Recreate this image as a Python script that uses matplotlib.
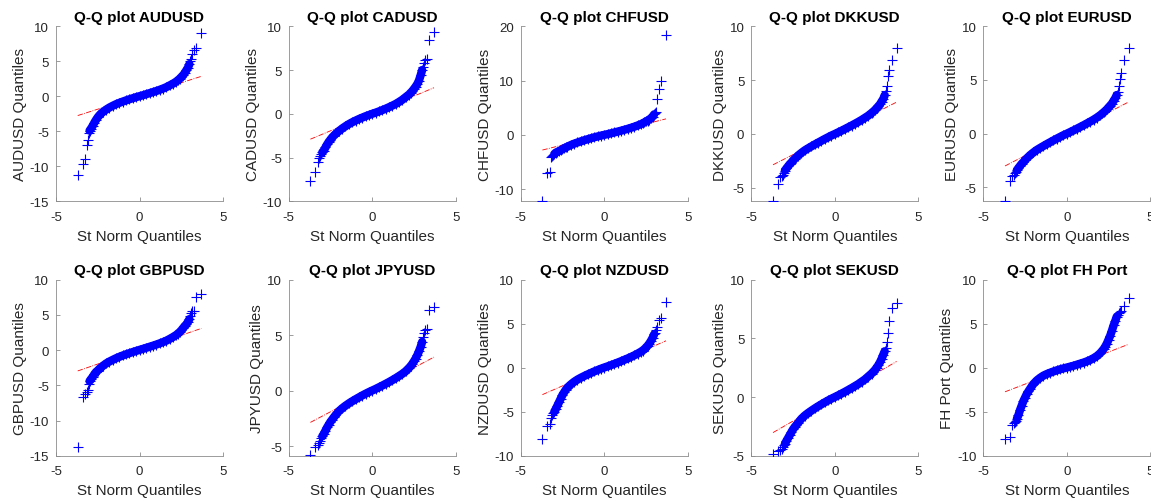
import matplotlib
matplotlib.use("Agg")
import matplotlib.pyplot as plt

plt.rcParams['font.family'] = ['Liberation Sans', 'DejaVu Sans']
plt.rcParams['axes.unicode_minus'] = False

# theoretical standard-normal quantiles at which the sample quantiles were read
qx = [-3.70, -3.41, -3.27, -3.17, -3.10, -3.04, -2.99,
      -2.9, -2.8, -2.7, -2.6, -2.5, -2.4, -2.3, -2.2,
      -2.0, -1.8, -1.6, -1.4, -1.2, -1.0, -0.8, -0.6, -0.4, -0.2,
      0.0,
      0.2, 0.4, 0.6, 0.8, 1.0, 1.2, 1.4, 1.6, 1.8, 2.0,
      2.2, 2.3, 2.4, 2.5, 2.6, 2.7, 2.8, 2.9,
      2.99, 3.04, 3.10, 3.17, 3.27, 3.41, 3.70]

names = ['AUDUSD', 'CADUSD', 'CHFUSD', 'DKKUSD', 'EURUSD',
         'GBPUSD', 'JPYUSD', 'NZDUSD', 'SEKUSD', 'FH Port']

aud = [-11.2, -9.7, -9.0, -7.0, -6.3, -5.3, -4.9,
       -4.6, -4.2, -3.75, -3.35, -3.0, -2.7, -2.45, -2.25,
       -1.9, -1.6, -1.35, -1.12, -0.93, -0.75, -0.58, -0.42, -0.27, -0.12,
       0.02,
       0.15, 0.3, 0.45, 0.6, 0.75, 0.92, 1.1, 1.3, 1.55, 1.8,
       2.1, 2.3, 2.5, 2.75, 3.0, 3.3, 3.7, 4.1,
       4.6, 5.0, 5.4, 6.0, 6.6, 6.9, 9.1]
cad = [-7.7, -6.7, -5.5, -5.0, -4.8, -4.6, -4.4,
       -4.2, -3.85, -3.5, -3.2, -2.95, -2.7, -2.5, -2.3,
       -1.98, -1.68, -1.42, -1.18, -0.97, -0.78, -0.6, -0.44, -0.28, -0.14,
       0.0,
       0.13, 0.27, 0.42, 0.58, 0.75, 0.93, 1.12, 1.35, 1.6, 1.9,
       2.2, 2.4, 2.6, 2.85, 3.1, 3.4, 3.8, 4.4,
       5.0, 5.4, 5.8, 6.1, 6.3, 8.4, 9.4]
chf = [-12.2, -7.0, -6.8, -4.1, -3.9, -3.7, -3.5,
       -3.25, -3.1, -2.95, -2.8, -2.6, -2.45, -2.3, -2.15,
       -1.85, -1.6, -1.38, -1.17, -0.97, -0.78, -0.6, -0.43, -0.27, -0.12,
       0.02,
       0.16, 0.31, 0.46, 0.62, 0.78, 0.95, 1.13, 1.32, 1.52, 1.75,
       2.0, 2.15, 2.3, 2.5, 2.65, 2.85, 3.1, 3.4,
       3.8, 4.0, 4.3, 6.6, 8.5, 9.9, 18.4]
dkk = [-6.25, -4.6, -3.95, -3.9, -3.8, -3.6, -3.4,
       -3.2, -3.0, -2.8, -2.65, -2.45, -2.3, -2.15, -2.0,
       -1.75, -1.52, -1.33, -1.15, -0.97, -0.8, -0.63, -0.46, -0.3, -0.14,
       0.0,
       0.15, 0.3, 0.46, 0.62, 0.78, 0.95, 1.12, 1.3, 1.5, 1.7,
       1.95, 2.08, 2.22, 2.4, 2.57, 2.75, 3.0, 3.25,
       3.6, 4.0, 4.5, 5.4, 5.9, 6.9, 8.0]
eur = [-6.28, -4.45, -3.95, -3.85, -3.7, -3.55, -3.4,
       -3.2, -3.0, -2.8, -2.65, -2.45, -2.3, -2.15, -2.0,
       -1.75, -1.52, -1.33, -1.15, -0.97, -0.8, -0.63, -0.46, -0.3, -0.14,
       0.0,
       0.15, 0.3, 0.46, 0.62, 0.78, 0.95, 1.12, 1.3, 1.5, 1.72,
       1.98, 2.12, 2.27, 2.45, 2.62, 2.8, 3.05, 3.3,
       3.6, 3.9, 4.4, 5.1, 5.65, 6.9, 8.0]
gbp = [-13.8, -6.6, -6.3, -6.0, -5.6, -4.8, -4.4,
       -4.1, -3.8, -3.4, -3.1, -2.9, -2.65, -2.45, -2.25,
       -1.9, -1.62, -1.38, -1.15, -0.95, -0.76, -0.59, -0.43, -0.27, -0.12,
       0.03,
       0.17, 0.32, 0.47, 0.62, 0.78, 0.95, 1.13, 1.33, 1.58, 1.85,
       2.15, 2.35, 2.55, 2.8, 3.1, 3.4, 3.65, 4.0,
       4.4, 4.8, 5.2, 5.5, 5.6, 7.5, 7.9]
jpy = [-5.82, -5.1, -4.9, -4.7, -4.5, -4.3, -4.1,
       -3.9, -3.6, -3.3, -3.05, -2.8, -2.6, -2.4, -2.2,
       -1.85, -1.58, -1.35, -1.14, -0.95, -0.77, -0.6, -0.43, -0.27, -0.12,
       0.02,
       0.16, 0.31, 0.46, 0.62, 0.78, 0.95, 1.13, 1.32, 1.52, 1.75,
       2.05, 2.22, 2.42, 2.65, 2.9, 3.2, 3.55, 3.95,
       4.4, 4.8, 5.2, 5.5, 5.6, 7.3, 7.5]
nzd = [-8.1, -6.6, -6.4, -5.7, -5.4, -5.2, -5.0,
       -4.7, -4.3, -3.9, -3.5, -3.1, -2.8, -2.5, -2.25,
       -1.9, -1.6, -1.35, -1.14, -0.95, -0.77, -0.6, -0.43, -0.27, -0.12,
       0.02,
       0.15, 0.29, 0.43, 0.58, 0.73, 0.89, 1.05, 1.22, 1.4, 1.6,
       1.82, 1.95, 2.1, 2.3, 2.5, 2.75, 3.05, 3.4,
       3.8, 4.0, 4.3, 4.6, 5.4, 5.6, 7.5]
sek = [-4.86, -4.6, -4.5, -4.4, -4.3, -4.1, -4.0,
       -3.75, -3.5, -3.25, -3.0, -2.75, -2.55, -2.38, -2.2,
       -1.85, -1.58, -1.36, -1.16, -0.97, -0.79, -0.62, -0.45, -0.29, -0.14,
       0.0,
       0.14, 0.29, 0.44, 0.6, 0.76, 0.93, 1.1, 1.3, 1.5, 1.75,
       2.0, 2.15, 2.3, 2.5, 2.7, 2.95, 3.25, 3.6,
       3.9, 4.2, 4.7, 5.5, 6.5, 7.6, 8.0]
fhp = [-8.1, -7.9, -6.5, -6.3, -6.2, -6.0, -5.8,
       -5.4, -4.8, -4.3, -3.8, -3.4, -3.0, -2.7, -2.4,
       -1.85, -1.45, -1.15, -0.9, -0.72, -0.57, -0.43, -0.3, -0.18, -0.08,
       0.02,
       0.12, 0.22, 0.34, 0.46, 0.58, 0.72, 0.88, 1.08, 1.32, 1.65,
       2.1, 2.4, 2.75, 3.2, 3.65, 4.2, 4.8, 5.3,
       5.8, 6.0, 6.2, 6.3, 6.5, 7.0, 7.9]
series = [aud, cad, chf, dkk, eur, gbp, jpy, nzd, sek, fhp]

# reference (quartile) line: value at x = -3.7 and x = +3.7
ref_x = [-3.70, 3.70]
ref_lo = [-2.75, -2.90, -2.77, -2.86, -3.01, -2.96, -2.85, -3.06, -3.03, -2.74]
ref_hi = [2.85, 2.98, 2.97, 2.96, 2.95, 3.08, 3.03, 3.06, 3.03, 2.66]

# axis limits / ticks
ylims = [(-15, 10), (-10, 10), (-12.2, 20), (-6.25, 10), (-6.3, 10),
         (-15, 10), (-5.85, 10), (-10, 10), (-5, 10), (-10, 10)]
yticks = [[-15, -10, -5, 0, 5, 10], [-10, -5, 0, 5, 10], [-10, 0, 10, 20],
          [-5, 0, 5, 10], [-5, 0, 5, 10], [-15, -10, -5, 0, 5, 10],
          [-5, 0, 5, 10], [-10, -5, 0, 5, 10], [-5, 0, 5, 10],
          [-10, -5, 0, 5, 10]]
xticks = [-5, 0, 5]

# the dense middle of each sample (thousands of overlapping markers)
dense_lo, dense_hi = 6, 45

W, H = 1151, 502
fig = plt.figure(figsize=(W / 100, H / 100), dpi=100)

col_left = [56, 288.7, 520.7, 751.3, 983.3]
row_top = [27.3, 280.7]
row_bot = [202.3, 456.7]
ax_w = 167

axis_col = '#8c8c8c'
text_col = '#262626'

for i, (name, ys) in enumerate(zip(names, series)):
    r, c = divmod(i, 5)
    left = col_left[c] / W
    bottom = 1 - row_bot[r] / H
    height = (row_bot[r] - row_top[r]) / H
    ax = fig.add_axes([left, bottom, ax_w / W, height])
    ax.plot(ref_x, [ref_lo[i], ref_hi[i]], color='red', linestyle='-.',
            linewidth=0.6, zorder=1)
    ax.plot(qx[dense_lo:dense_hi], ys[dense_lo:dense_hi], color='#0000ff',
            linewidth=6.0, solid_capstyle='round', solid_joinstyle='round',
            zorder=2)
    ax.plot(qx, ys, linestyle='none', marker='+', color='#0000ff',
            markersize=7, markeredgewidth=0.8, zorder=3)
    ax.set_xlim(-5, 5)
    ax.set_ylim(*ylims[i])
    ax.set_xticks(xticks)
    ax.set_yticks(yticks[i])
    for s in ['top', 'right']:
        ax.spines[s].set_visible(False)
    for s in ['left', 'bottom']:
        ax.spines[s].set_color(axis_col)
        ax.spines[s].set_linewidth(0.6)
    ax.tick_params(direction='in', length=3, width=0.6, color=axis_col,
                   labelsize=9.5, labelcolor=text_col)
    ax.tick_params(axis='x', pad=7)
    ax.tick_params(axis='y', pad=5)
    ax.set_title('Q-Q plot ' + name, fontsize=11, fontweight='bold',
                 color='black', pad=4)
    ax.set_xlabel('St Norm Quantiles', fontsize=11, color=text_col, labelpad=4)
    ax.set_ylabel(name + ' Quantiles', fontsize=11, color=text_col, labelpad=2)

fig.savefig('out.png', dpi=100)
